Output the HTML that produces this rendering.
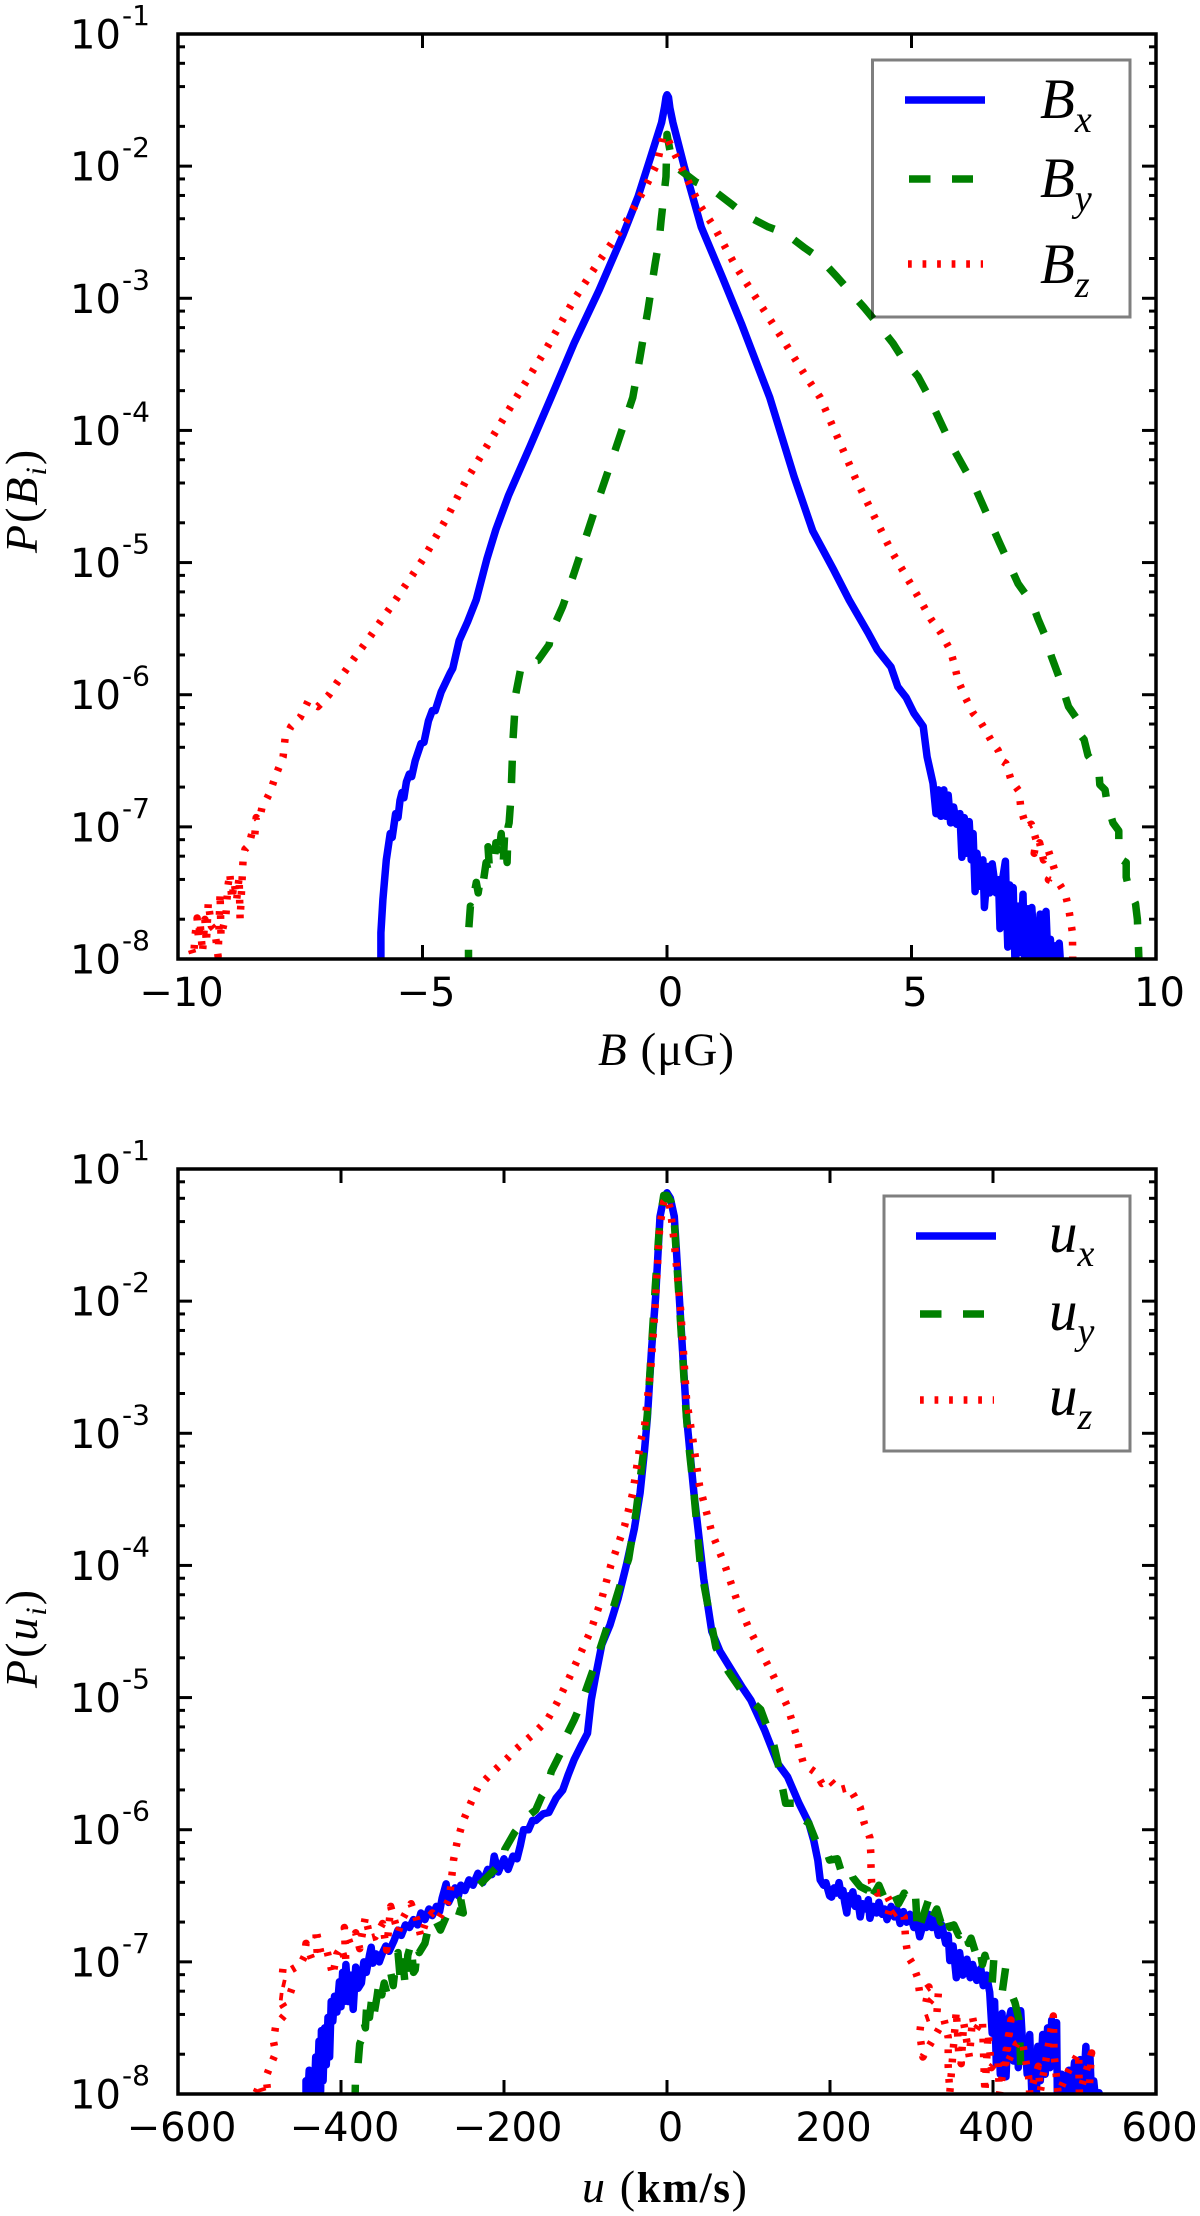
<!DOCTYPE html>
<html lang="en">
<head>
<meta charset="utf-8">
<title>PDFs of magnetic field and velocity components</title>
<style>
html,body{margin:0;padding:0;background:#fff;}
svg{display:block;}
.tick-text{font-family:"DejaVu Sans","Liberation Sans",sans-serif;fill:#000;}
.math{font-family:"Liberation Serif",serif;fill:#000;}
</style>
</head>
<body>
<svg id="chart" xmlns="http://www.w3.org/2000/svg" width="1200" height="2216" viewBox="0 0 1200 2216">
  <rect x="0" y="0" width="1200" height="2216" fill="#fff"/>
  <defs>
    <clipPath id="clip-b"><rect x="178" y="34" width="978" height="925"/></clipPath>
    <clipPath id="clip-u"><rect x="178" y="1169" width="978" height="925"/></clipPath>
  </defs>
  <g id="panel-b"></g>
  <g id="panel-u"></g>

  <text class="math" x="598" y="1065" font-size="47" textLength="136"><tspan font-style="italic">B</tspan> (μG)</text>
  <text class="math" x="582" y="2202" font-size="46" textLength="165"><tspan font-style="italic">u</tspan> (<tspan font-weight="bold" font-size="43">km/s</tspan>)</text>
  <text class="math" transform="translate(37,553) rotate(-90)" font-size="46" letter-spacing="2"><tspan font-style="italic">P</tspan>(<tspan font-style="italic">B</tspan><tspan font-style="italic" font-size="30" dy="9">i</tspan><tspan dy="-9">)</tspan></text>
  <text class="math" transform="translate(37,1688) rotate(-90)" font-size="46" letter-spacing="2"><tspan font-style="italic">P</tspan>(<tspan font-style="italic">u</tspan><tspan font-style="italic" font-size="30" dy="9">i</tspan><tspan dy="-9">)</tspan></text>

  <g>
    <rect x="872.5" y="60" width="257.5" height="257" fill="none" stroke="#000" stroke-opacity="0.5" stroke-width="3"/>
    <line x1="905" x2="985" y1="100" y2="100" stroke="#0000ff" stroke-width="7.5"/>
    <line x1="909" x2="973" y1="179" y2="179" stroke="#008000" stroke-width="7.5" stroke-dasharray="21.5 21.5"/>
    <line x1="908" x2="983" y1="264" y2="264" stroke="#ff0000" stroke-width="7.5" stroke-dasharray="3.75 10.8"/>
    <text class="math" x="1040" y="118" font-size="57" font-style="italic">B<tspan font-size="38" dy="14">x</tspan></text>
    <text class="math" x="1040" y="197" font-size="57" font-style="italic">B<tspan font-size="38" dy="14">y</tspan></text>
    <text class="math" x="1040" y="283" font-size="57" font-style="italic">B<tspan font-size="38" dy="14">z</tspan></text>
  </g>
  <g>
    <rect x="884" y="1196" width="246" height="255" fill="none" stroke="#000" stroke-opacity="0.5" stroke-width="3"/>
    <line x1="916" x2="996" y1="1236" y2="1236" stroke="#0000ff" stroke-width="7.5"/>
    <line x1="920" x2="984" y1="1314" y2="1314" stroke="#008000" stroke-width="7.5" stroke-dasharray="21.5 21.5"/>
    <line x1="920" x2="994" y1="1400" y2="1400" stroke="#ff0000" stroke-width="7.5" stroke-dasharray="3.75 10.8"/>
    <text class="math" x="1049" y="1252" font-size="57" font-style="italic">u<tspan font-size="38" dy="14">x</tspan></text>
    <text class="math" x="1049" y="1330" font-size="57" font-style="italic">u<tspan font-size="38" dy="14">y</tspan></text>
    <text class="math" x="1049" y="1415" font-size="57" font-style="italic">u<tspan font-size="38" dy="14">z</tspan></text>
  </g>
</svg>
<script>
// Tick values
const bTicks = [-10, -5, 0, 5, 10];
const uTicks = [-600, -400, -200, 0, 200, 400, 600];
const decadeTicks = [-1, -2, -3, -4, -5, -6, -7, -8];
const minorMultipliers = [2, 4, 6, 8];

// Series: [value, log10 probability]
const seriesBx = [[-5.85,-8.1],[-5.85,-7.8],[-5.81,-7.55],[-5.74,-7.25],[-5.66,-7.05],[-5.62,-7.08],[-5.55,-6.9],[-5.5,-6.93],[-5.46,-6.8],[-5.42,-6.74],[-5.38,-6.78],[-5.33,-6.66],[-5.27,-6.6],[-5.22,-6.62],[-5.15,-6.5],[-5.03,-6.37],[-4.97,-6.36],[-4.88,-6.2],[-4.8,-6.12],[-4.74,-6.12],[-4.62,-5.98],[-4.44,-5.84],[-4.38,-5.8],[-4.25,-5.59],[-4.08,-5.45],[-3.9,-5.28],[-3.68,-4.97],[-3.5,-4.75],[-3.24,-4.49],[-2.8,-4.12],[-2.37,-3.75],[-1.9,-3.34],[-1.39,-2.94],[-0.9,-2.52],[-0.59,-2.23],[-0.35,-1.95],[-0.11,-1.67],[-0.05,-1.55],[-0.02,-1.48],[0,-1.46],[0.03,-1.48],[0.06,-1.56],[0.12,-1.67],[0.35,-2],[0.7,-2.46],[1.13,-2.84],[1.52,-3.19],[2.1,-3.75],[2.6,-4.35],[2.98,-4.76],[3.4,-5.05],[3.72,-5.28],[4.11,-5.53],[4.3,-5.66],[4.58,-5.79],[4.72,-5.94],[4.89,-6.02],[5.05,-6.14],[5.24,-6.24],[5.32,-6.47],[5.44,-6.67],[5.5,-6.9],[5.55,-6.72],[5.6,-6.92],[5.66,-6.72],[5.7,-6.92],[5.75,-6.76],[5.8,-6.97],[5.86,-6.85],[5.92,-6.98],[5.99,-6.9],[6.03,-7.23],[6.08,-6.93],[6.12,-7.2],[6.18,-6.96],[6.22,-7.25],[6.26,-7.05],[6.3,-7.49],[6.34,-7.2],[6.4,-7.45],[6.46,-7.25],[6.49,-7.61],[6.56,-7.3],[6.6,-7.5],[6.65,-7.28],[6.73,-7.5],[6.78,-7.4],[6.81,-7.77],[6.86,-7.4],[6.92,-7.26],[6.95,-7.7],[6.97,-7.91],[7.01,-7.44],[7.05,-7.8],[7.08,-7.46],[7.12,-8.1],[7.18,-7.6],[7.23,-7.95],[7.28,-7.51],[7.32,-8.1],[7.38,-7.62],[7.42,-8],[7.46,-7.61],[7.52,-7.95],[7.59,-8.1],[7.63,-7.66],[7.68,-8.05],[7.75,-7.64],[7.8,-8.1],[7.84,-7.85],[7.88,-8.1],[7.94,-7.9],[7.98,-8.1],[8.02,-7.88],[8.06,-8.1]];
const seriesBy = [[-4.06,-8.1],[-4.06,-7.8],[-4.02,-7.6],[-3.98,-7.62],[-3.94,-7.5],[-3.9,-7.42],[-3.86,-7.5],[-3.8,-7.35],[-3.75,-7.4],[-3.7,-7.27],[-3.62,-7.38],[-3.66,-7.15],[-3.6,-7.2],[-3.54,-7.28],[-3.5,-7.12],[-3.45,-7.25],[-3.39,-7.05],[-3.35,-7.28],[-3.32,-7.05],[-3.27,-7.27],[-3.25,-7],[-3.23,-6.97],[-3.19,-6.77],[-3.15,-6.34],[-3.09,-5.99],[-3,-5.82],[-2.88,-5.75],[-2.64,-5.74],[-2.41,-5.62],[-2.37,-5.53],[-2.13,-5.33],[-1.9,-5.08],[-1.5,-4.63],[-1.07,-4.16],[-0.7,-3.75],[-0.55,-3.44],[-0.39,-3.09],[-0.24,-2.73],[-0.16,-2.56],[-0.12,-2.41],[-0.02,-2.08],[0,-1.76],[0.07,-1.9],[0.2,-2.01],[0.59,-2.12],[0.94,-2.18],[1.33,-2.29],[1.6,-2.37],[2.07,-2.46],[2.43,-2.51],[2.82,-2.62],[3.13,-2.7],[3.48,-2.84],[3.72,-2.94],[4.03,-3.07],[4.3,-3.19],[4.62,-3.34],[4.81,-3.45],[5.13,-3.59],[5.32,-3.72],[5.8,-4.1],[6.31,-4.44],[6.8,-4.85],[7.18,-5.16],[7.47,-5.31],[7.59,-5.43],[7.75,-5.57],[7.86,-5.71],[8.02,-5.87],[8.21,-6.09],[8.36,-6.17],[8.32,-6.24],[8.53,-6.34],[8.61,-6.46],[8.73,-6.52],[8.83,-6.57],[8.85,-6.68],[8.96,-6.72],[9,-6.82],[9.12,-6.97],[9.24,-7.03],[9.24,-7.12],[9.31,-7.18],[9.31,-7.25],[9.39,-7.27],[9.39,-7.38],[9.47,-7.5],[9.58,-7.58],[9.62,-7.7],[9.63,-7.8],[9.66,-8.1]];
const seriesBz = [[-9.77,-8.02],[-9.73,-7.92],[-9.68,-7.98],[-9.65,-7.82],[-9.61,-7.69],[-9.58,-7.85],[-9.55,-7.72],[-9.5,-7.95],[-9.45,-7.7],[-9.42,-7.88],[-9.38,-7.57],[-9.32,-7.75],[-9.25,-7.78],[-9.18,-7.98],[-9.15,-7.62],[-9.14,-7.5],[-9.12,-7.83],[-9.02,-7.67],[-8.98,-7.45],[-8.94,-7.35],[-8.9,-7.55],[-8.85,-7.42],[-8.8,-7.55],[-8.75,-7.38],[-8.73,-7.7],[-8.71,-7.55],[-8.67,-7.26],[-8.63,-7.17],[-8.55,-7.14],[-8.47,-7.02],[-8.43,-7.06],[-8.4,-6.93],[-8.34,-6.95],[-8.28,-6.85],[-8.2,-6.8],[-8.12,-6.74],[-8,-6.61],[-7.85,-6.47],[-7.81,-6.33],[-7.69,-6.24],[-7.5,-6.17],[-7.34,-6.05],[-7.14,-6.09],[-6.91,-6],[-6.75,-5.91],[-6.6,-5.83],[-6.37,-5.71],[-6.09,-5.57],[-5.81,-5.42],[-5.58,-5.3],[-4.98,-4.97],[-4.5,-4.66],[-4.11,-4.38],[-3.08,-3.75],[-2.45,-3.37],[-1.9,-3.01],[-1.39,-2.72],[-0.9,-2.46],[-0.47,-2.18],[-0.2,-1.98],[-0.08,-1.77],[0,-1.78],[0.12,-1.88],[0.39,-2.08],[0.66,-2.29],[0.98,-2.47],[1.41,-2.76],[1.88,-3.03],[2.35,-3.3],[2.82,-3.58],[3.13,-3.75],[3.85,-4.36],[4.57,-4.9],[5.17,-5.28],[5.4,-5.43],[5.6,-5.53],[5.79,-5.66],[5.87,-5.76],[5.95,-5.89],[6.1,-6.02],[6.26,-6.14],[6.4,-6.2],[6.53,-6.28],[6.65,-6.36],[6.77,-6.42],[6.85,-6.5],[6.93,-6.52],[7.04,-6.65],[7.2,-6.73],[7.24,-6.87],[7.35,-7],[7.45,-6.98],[7.55,-7.1],[7.51,-7.2],[7.62,-7.12],[7.7,-7.25],[7.8,-7.18],[7.93,-7.33],[7.8,-7.4],[8.02,-7.43],[8.14,-7.5],[8.21,-7.61],[8.25,-7.7],[8.29,-7.8],[8.3,-8.1]];

const seriesUx = [[-443,-8.1],[-443,-7.9],[-441,-8.05],[-439,-7.82],[-437,-8.05],[-435,-7.85],[-433,-8.05],[-431,-7.72],[-429,-7.95],[-427,-7.6],[-425,-7.98],[-424,-7.52],[-422,-7.9],[-420,-7.5],[-418,-7.78],[-416,-7.42],[-414,-7.72],[-412,-7.3],[-410,-7.45],[-408,-7.26],[-405,-7.38],[-402,-7.15],[-400,-7.34],[-398,-7.08],[-396,-7.3],[-394,-7.02],[-391,-7.3],[-388,-7.1],[-385,-7.36],[-382,-7.04],[-379,-7.2],[-375,-7.16],[-372,-7],[-369,-7.08],[-365,-6.95],[-363,-6.89],[-361,-7.01],[-357,-6.94],[-353,-7],[-349,-6.93],[-345,-6.88],[-341,-6.92],[-335,-6.84],[-330,-6.76],[-326,-6.8],[-321,-6.72],[-316,-6.74],[-311,-6.68],[-306,-6.72],[-302,-6.63],[-297,-6.68],[-292,-6.6],[-288,-6.65],[-283,-6.58],[-279,-6.62],[-276,-6.52],[-271,-6.41],[-268,-6.55],[-264,-6.5],[-260,-6.44],[-256,-6.5],[-253,-6.42],[-248,-6.46],[-243,-6.38],[-238,-6.42],[-232,-6.33],[-226,-6.4],[-220,-6.3],[-215,-6.34],[-212,-6.2],[-207,-6.32],[-200,-6.22],[-195,-6.3],[-189,-6.2],[-184,-6.22],[-180,-6.12],[-176,-6],[-170,-6],[-165,-5.93],[-161,-5.93],[-152,-5.88],[-145,-5.87],[-136,-5.76],[-128,-5.7],[-121,-5.58],[-114,-5.47],[-105,-5.36],[-97.6,-5.27],[-93,-5.02],[-88,-4.85],[-80,-4.6],[-70,-4.45],[-60,-4.25],[-50,-4],[-40,-3.72],[-33,-3.45],[-27.6,-3.13],[-24,-2.88],[-19,-2.37],[-14,-1.97],[-8.6,-1.36],[-4,-1.22],[0,-1.18],[4,-1.22],[9,-1.36],[14,-1.86],[19,-2.37],[24,-2.88],[28,-3.13],[33,-3.45],[45,-4.1],[55,-4.5],[65,-4.65],[80,-4.8],[92,-4.92],[103,-5.02],[120,-5.25],[136,-5.5],[148,-5.6],[162,-5.8],[174,-5.95],[180,-6.08],[185,-6.23],[188,-6.38],[192,-6.42],[195,-6.4],[199.5,-6.5],[202,-6.51],[205,-6.44],[208,-6.48],[211,-6.4],[214,-6.5],[216,-6.46],[218,-6.55],[220.6,-6.63],[223,-6.5],[226,-6.56],[228,-6.47],[231,-6.58],[234,-6.52],[237,-6.66],[240,-6.56],[244,-6.6],[247,-6.53],[249,-6.67],[253,-6.58],[257,-6.63],[260,-6.55],[264,-6.64],[267,-6.6],[270,-6.68],[275,-6.58],[279,-6.66],[282,-6.6],[286,-6.71],[290,-6.62],[294,-6.7],[298,-6.64],[303,-6.74],[306,-6.68],[310,-6.81],[315,-6.7],[318,-6.74],[321,-6.64],[325,-6.74],[329,-6.68],[333,-6.8],[337,-6.72],[342,-6.86],[345,-6.8],[347,-6.99],[351,-6.88],[355,-7.12],[359,-6.93],[363,-7.1],[368,-6.98],[372,-7.12],[375,-7.02],[380,-7.14],[385,-7.05],[388,-7.18],[392,-7.1],[396,-7.23],[399,-7.54],[402,-7.3],[404,-7.77],[407,-7.5],[409,-7.85],[411,-7.39],[414,-7.7],[416,-7.87],[419,-7.45],[422,-7.37],[425,-7.75],[428,-7.38],[431,-7.8],[434,-7.37],[437,-7.7],[439,-7.59],[442,-7.85],[445,-7.55],[448,-8.05],[451,-7.7],[453,-8.05],[455,-7.64],[458,-7.9],[461,-7.55],[464,-7.85],[467,-7.5],[470,-7.8],[472,-7.44],[475,-7.75],[478,-7.46],[479,-8.05],[484,-7.85],[488,-8.05],[493,-7.82],[496,-8.05],[500,-7.76],[503,-8.05],[507,-7.74],[510,-8.05],[514,-7.64],[516,-8],[519,-7.72],[521,-8.05],[523.6,-7.9],[526,-8.05],[530,-7.99]];
const seriesUy = [[-383,-8.1],[-382,-7.79],[-379,-7.77],[-377,-7.62],[-375,-7.59],[-372,-7.45],[-370,-7.5],[-368,-7.28],[-365,-7.42],[-362,-7.26],[-359,-7.38],[-356,-7.27],[-353,-7.14],[-350,-7.25],[-347,-7.16],[-344,-7.23],[-341,-7.1],[-339,-7.08],[-336,-7.18],[-333,-7.02],[-330,-6.93],[-327,-7.15],[-324,-7],[-321,-7.19],[-318,-6.95],[-314,-6.86],[-311,-7.08],[-309,-7.06],[-306,-6.88],[-304,-6.93],[-297,-6.86],[-293,-6.75],[-288,-6.78],[-283,-6.7],[-278,-6.76],[-271,-6.66],[-262,-6.7],[-260,-6.61],[-250,-6.63],[-253,-6.53],[-241,-6.48],[-224,-6.38],[-208,-6.28],[-201,-6.25],[-199,-6.15],[-187,-6.02],[-173,-5.91],[-161,-5.85],[-154,-5.75],[-147,-5.68],[-142,-5.56],[-130.5,-5.42],[-126,-5.32],[-114,-5.17],[-105,-5.04],[-90,-4.78],[-70,-4.4],[-55,-4.1],[-47,-3.95],[-38,-3.6],[-28,-3.1],[-24,-2.85],[-20,-2.45],[-14.5,-1.9],[-9,-1.4],[-4,-1.2],[0,-1.2],[5,-1.25],[9,-1.4],[13.5,-1.85],[18,-2.3],[23,-2.8],[26,-3.05],[33,-3.45],[41,-4],[50,-4.3],[60,-4.62],[75,-4.8],[95,-4.98],[115,-5.09],[131,-5.36],[136,-5.49],[141,-5.66],[145.5,-5.8],[157,-5.8],[162,-5.9],[174,-5.95],[185,-6.12],[195,-6.15],[199.5,-6.23],[209,-6.22],[213.5,-6.31],[223,-6.27],[228,-6.36],[237,-6.43],[246.6,-6.46],[247,-6.56],[260,-6.42],[267.5,-6.53],[277,-6.46],[284,-6.56],[291,-6.48],[298,-6.57],[305,-6.51],[307.5,-6.78],[321.5,-6.52],[326,-6.66],[331,-6.6],[336,-6.7],[342,-6.62],[347,-6.74],[352,-6.72],[358,-6.8],[366,-6.74],[370,-6.86],[373,-6.82],[378,-6.92],[383,-6.86],[387,-7.02],[390,-6.95],[395,-7.06],[401,-6.98],[399,-7.16],[406,-7.1],[415.6,-7.04],[411,-7.24],[418,-7.2],[422,-7.23],[427,-7.31],[432,-7.44],[434.4,-7.84]];
const seriesUz = [[-504,-7.99],[-499,-7.92],[-495,-8],[-490,-7.98],[-492,-7.87],[-487,-7.79],[-480,-7.69],[-483,-7.6],[-480,-7.48],[-466,-7.38],[-478,-7.26],[-464,-7.27],[-459,-7.18],[-473,-7.16],[-471,-7.04],[-461,-7.06],[-450,-7.02],[-445,-6.96],[-443,-6.86],[-436,-6.98],[-429,-6.96],[-431,-6.75],[-424,-6.95],[-417,-6.92],[-410,-7.1],[-405,-6.94],[-400,-6.89],[-394,-7.01],[-396,-6.74],[-389,-6.86],[-382,-6.78],[-377,-6.9],[-370,-6.66],[-364,-6.82],[-358,-6.81],[-349,-6.71],[-344,-6.91],[-339,-6.58],[-330,-6.78],[-325,-6.68],[-314,-6.56],[-307,-6.68],[-302,-6.81],[-295,-6.68],[-288,-6.63],[-281,-6.68],[-274,-6.61],[-267,-6.52],[-265,-6.41],[-262,-6.23],[-257,-6.08],[-250,-5.93],[-241,-5.8],[-232,-5.68],[-215,-5.57],[-196,-5.46],[-187,-5.4],[-163,-5.27],[-147,-5.17],[-135,-5.04],[-120,-4.85],[-105,-4.65],[-94,-4.5],[-80,-4.25],[-69,-4],[-52,-3.7],[-42,-3.45],[-32,-3.05],[-27.6,-2.95],[-24,-2.74],[-20,-2.52],[-15,-2.09],[-9,-1.44],[-4,-1.25],[0,-1.22],[4,-1.3],[9,-1.56],[17,-2.09],[24,-2.75],[32,-3.06],[40,-3.4],[55,-3.75],[71,-4],[85,-4.25],[100,-4.47],[115,-4.65],[130,-4.83],[148,-5.07],[153,-5.17],[158,-5.27],[162,-5.38],[167,-5.49],[174,-5.53],[183,-5.57],[190,-5.65],[199,-5.62],[211,-5.7],[223,-5.68],[230,-5.75],[237,-5.83],[242,-5.95],[249,-6.06],[250,-6.18],[250.3,-6.28],[251,-6.4],[258,-6.48],[267.5,-6.47],[275,-6.56],[270,-6.67],[284,-6.61],[291,-6.66],[293,-6.85],[296,-6.96],[301,-7.01],[307.5,-7.12],[310,-7.24],[321.5,-7.19],[316.6,-7.34],[333,-7.23],[331,-7.4],[312,-7.44],[310,-7.54],[314,-7.72],[340,-7.44],[345,-7.57],[345,-7.79],[347,-7.99],[355,-7.37],[358,-7.7],[361,-7.77],[364,-7.46],[371,-7.72],[375,-7.42],[378,-7.52],[387,-7.44],[390,-7.99],[394,-7.54],[398,-7.8],[406,-7.74],[408,-8],[422,-7.44],[415,-7.8],[429,-7.62],[436,-7.6],[443.7,-7.87],[445,-8],[455.6,-7.79],[458,-7.98],[465,-7.74],[474,-7.41],[475,-7.7],[480,-8],[493,-7.82],[505,-7.69],[506,-8],[521,-7.69],[519,-7.85],[518,-8]];

const SVG_NS = 'http://www.w3.org/2000/svg';
const LEFT = 178, RIGHT = 1156;

function makeX(maxValue) {
  const center = (LEFT + RIGHT) / 2;
  const half = (RIGHT - LEFT) / 2;
  return function (v) { return center + (v / maxValue) * half; };
}
function makeY(top, bottom) {
  return function (logP) { return top + ((logP + 1) / -7) * (bottom - top); };
}
function tickLine(parent, x1, y1, x2, y2) {
  const l = document.createElementNS(SVG_NS, 'line');
  
  
  l.setAttribute('x1', x1);
  l.setAttribute('y1', y1);
  l.setAttribute('x2', x2);
  l.setAttribute('y2', y2);
  l.setAttribute('stroke', '#000');
  l.setAttribute('stroke-width', '3');
  parent.appendChild(l);
}
function addSeries(parent, data, xf, yf, name, color, dash, clipId) {
  const p = document.createElementNS(SVG_NS, 'path');
  
  
  p.setAttribute('d', data.map(function (pt, i) {
    return (i ? 'L' : 'M') + xf(pt[0]).toFixed(1) + ' ' + yf(pt[1]).toFixed(1);
  }).join(' '));
  p.setAttribute('fill', 'none');
  p.setAttribute('stroke', color);
  p.setAttribute('stroke-width', '7.5');
  p.setAttribute('stroke-linejoin', 'round');
  p.setAttribute('stroke-linecap', dash ? 'butt' : 'round');
  if (dash) p.setAttribute('stroke-dasharray', dash);
  p.setAttribute('clip-path', 'url(#' + clipId + ')');
  parent.appendChild(p);
}
function drawPanel(groupId, top, bottom, xTicks, xMax, clipId, series) {
  const g = document.getElementById(groupId);
  const xf = makeX(xMax);
  const yf = makeY(top, bottom);

  series.forEach(function (s) {
    addSeries(g, s.data, xf, yf, s.name, s.color, s.dash, clipId);
  });

  xTicks.forEach(function (t) {
    const x = xf(t);
    if (t !== xTicks[0] && t !== xTicks[xTicks.length - 1]) {
      tickLine(g, x, top, x, top + 14);
      tickLine(g, x, bottom, x, bottom - 14);
    }
    const label = document.createElementNS(SVG_NS, 'text');
    
    
    label.setAttribute('class', 'tick-text');
    label.setAttribute('x', x + 3.5);
    label.setAttribute('y', bottom + 47);
    label.setAttribute('font-size', '40');
    label.setAttribute('text-anchor', 'middle');
    label.textContent = (t < 0 ? '\u2212' : '') + Math.abs(t);
    g.appendChild(label);
  });

  decadeTicks.forEach(function (d) {
    const y = yf(d);
    if (d !== -1 && d !== -8) {
      tickLine(g, LEFT, y, LEFT + 14, y);
      tickLine(g, RIGHT, y, RIGHT - 14, y);
    }
    if (d > -8) {
      minorMultipliers.forEach(function (m) {
        const my = yf(d - 1 + Math.log10(m));
        tickLine(g, LEFT, my, LEFT + 7, my);
        tickLine(g, RIGHT, my, RIGHT - 7, my);
      });
    }
    const base = document.createElementNS(SVG_NS, 'text');
    
    
    base.setAttribute('class', 'tick-text');
    base.setAttribute('x', 70);
    base.setAttribute('y', y + 14.5);
    base.setAttribute('font-size', '40');
    base.textContent = '10';
    g.appendChild(base);
    const exp = document.createElementNS(SVG_NS, 'text');
    
    
    exp.setAttribute('class', 'tick-text');
    exp.setAttribute('x', 122);
    exp.setAttribute('y', y - 9);
    exp.setAttribute('font-size', '28');
    exp.textContent = String(d);
    g.appendChild(exp);
  });

  const frame = document.createElementNS(SVG_NS, 'rect');
  
  
  frame.setAttribute('x', LEFT);
  frame.setAttribute('y', top);
  frame.setAttribute('width', RIGHT - LEFT);
  frame.setAttribute('height', bottom - top);
  frame.setAttribute('fill', 'none');
  frame.setAttribute('stroke', '#000');
  frame.setAttribute('stroke-width', '3.5');
  g.appendChild(frame);
}

const DASHED = '22.5 22.5';
const DOTTED = '3.75 11';
drawPanel('panel-b', 34, 959, bTicks, 10, 'clip-b', [
  { data: seriesBx, name: 'series-bx', color: '#0000ff', dash: null },
  { data: seriesBy, name: 'series-by', color: '#008000', dash: DASHED },
  { data: seriesBz, name: 'series-bz', color: '#ff0000', dash: DOTTED }
]);
drawPanel('panel-u', 1169, 2094, uTicks, 600, 'clip-u', [
  { data: seriesUx, name: 'series-ux', color: '#0000ff', dash: null },
  { data: seriesUy, name: 'series-uy', color: '#008000', dash: DASHED },
  { data: seriesUz, name: 'series-uz', color: '#ff0000', dash: DOTTED }
]);
</script>
</body>
</html>
